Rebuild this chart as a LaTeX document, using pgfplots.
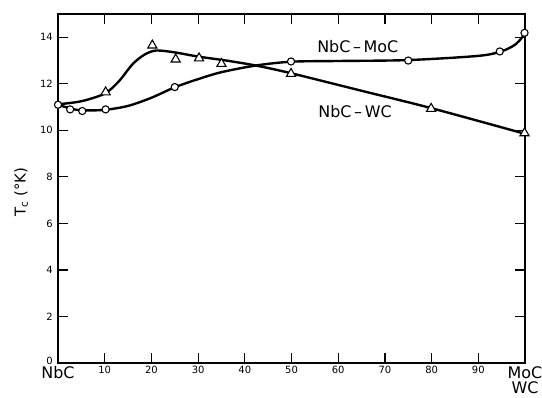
\documentclass[border=0pt]{standalone}
\usepackage{pgfplots}
\pgfplotsset{compat=1.18}
\usepackage{fontspec}
\setmainfont{DejaVu Sans}
\newcommand{\bigf}{\fontsize{16}{16}\selectfont}
\begin{document}
\begin{tikzpicture}
\path[use as bounding box] (-58bp,-35bp) rectangle (484bp,363bp);
\begin{axis}[
  at={(0,0)}, anchor=south west,
  scale only axis,
  width=467bp, height=349bp,
  xmin=0, xmax=100, ymin=0, ymax=15,
  axis line style={line width=1.7pt},
  tick style={line width=1.2pt, black},
  major tick length=10bp,
  tick align=inside,
  xtick={0,10,20,30,40,50,60,70,80,90,100},
  xticklabels={{\bigf NbC},10,20,30,40,50,60,70,80,90,{\bigf MoC\\[2.5pt]\bigf WC}},
  xticklabel style={align=center, anchor=north, inner sep=0pt, yshift=-3bp},
  ytick={0,2,4,6,8,10,12,14},
  yticklabels={\raisebox{4bp}{0},2,4,6,8,10,12,14},
  yticklabel style={anchor=east, inner sep=0pt, xshift=-5bp},
  every tick label/.append style={font=\fontsize{10}{10}\selectfont},
  /pgf/number format/assume math mode=true,
  ylabel={\fontsize{15}{15}\selectfont T\textsubscript{c} (°K)},
  ylabel style={at={(axis description cs:-0.079,0.49)}, anchor=center},
  clip=false,
]
% fitted curve NbC-WC
\addplot[black, line width=2.4pt, smooth, tension=0.5] coordinates {
 (0,11.12) (5,11.25) (10,11.58) (13,12.1) (16,12.85) (18.5,13.25) (21,13.43)
 (25,13.35) (30,13.17) (36,13.0) (42.5,12.78) (50,12.45) (65,11.7) (80,10.95) (100,9.85)};
% fitted curve NbC-MoC
\addplot[black, line width=2.4pt, smooth, tension=0.5] coordinates {
 (0,11.1) (2.5,10.95) (5,10.86) (10,10.88) (15,11.05) (20,11.4) (25,11.85)
 (30,12.2) (35,12.5) (42.5,12.79) (50,12.95) (60,12.98) (75,13.02) (90,13.2)
 (95,13.4) (98,13.7) (100,14.15)};
% data NbC-WC
\addplot[only marks, mark=triangle*, mark size=5.3pt, mark options={fill=white, draw=black, line width=1.1pt}] coordinates {
 (10.2,11.64) (20.2,13.65) (25.2,13.05) (30.2,13.1) (35,12.86) (49.9,12.43) (79.9,10.93) (99.9,9.88)};
% data NbC-MoC
\addplot[only marks, mark=*, mark size=3.6pt, mark options={fill=white, draw=black, line width=1.1pt}] coordinates {
 (0,11.1) (2.6,10.9) (5.2,10.83) (10.2,10.9) (25,11.86) (49.9,12.96) (75,13.0) (94.6,13.39) (99.9,14.19)};
\node[font=\bigf] at (axis cs:64.2,13.6) {NbC\,\textendash\,MoC};
\node[font=\bigf] at (axis cs:63.6,10.8) {NbC\,\textendash\,WC};
\end{axis}
\end{tikzpicture}
\end{document}
